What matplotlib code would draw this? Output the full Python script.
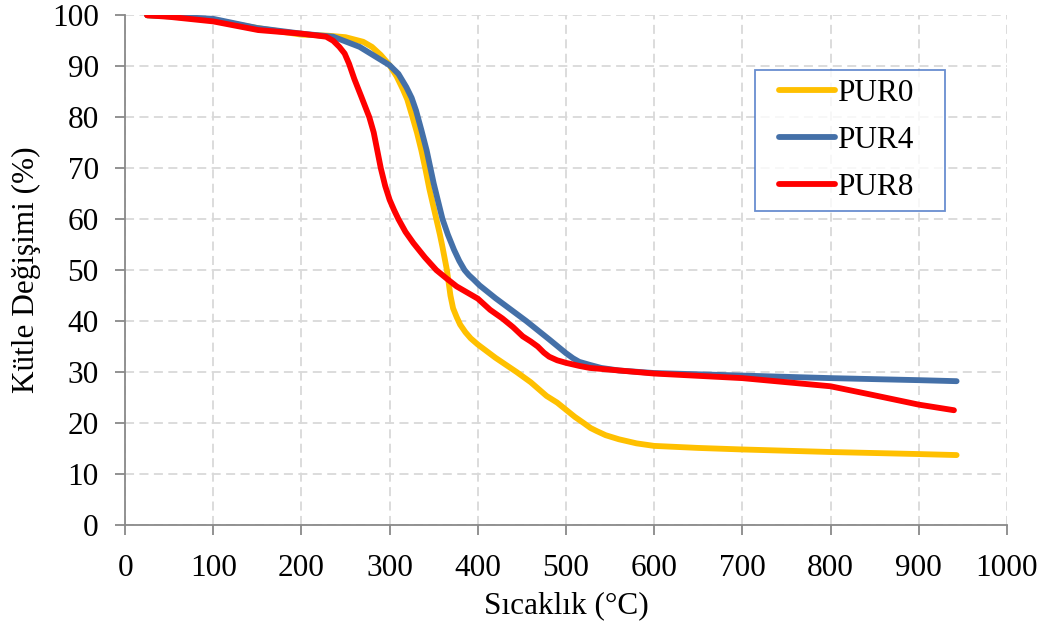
import matplotlib
matplotlib.use("Agg")
import matplotlib.pyplot as plt
from matplotlib.legend_handler import HandlerLine2D

# ─── Data ────────────────────────────────────────────────────────────────────

temp_pur0 = [25, 50, 100, 150, 200, 230, 250, 270, 280, 290, 300, 308, 315, 320,
             326, 331, 336, 341, 345, 349, 353, 357, 360, 365, 369, 372, 376,
             380, 386, 392, 400, 420, 444, 460, 478, 490, 500, 510, 520, 528,
             535, 545, 560, 580, 600, 650, 700, 800, 900, 943]
mass_pur0 = [100, 99.8, 99.0, 97.5, 96.2, 96.0, 95.7, 94.8, 93.8, 92.2, 90.2, 88,
             85.5, 83.5, 80, 77, 73.5, 69.5, 66, 63, 60, 57, 54.5, 50, 45, 42.5,
             40.8, 39.3, 37.8, 36.6, 35.4, 32.8, 30, 28, 25.3, 24, 22.6, 21.2, 20,
             19, 18.4, 17.6, 16.8, 16, 15.5, 15.1, 14.8, 14.3, 13.9, 13.7]

temp_pur4 = [25, 50, 100, 150, 200, 236, 266, 300, 310, 319, 325, 330, 336, 342,
             350, 355, 360, 366, 373, 379, 385, 390, 395, 402, 420, 455, 481,
             500, 508, 515, 527, 540, 560, 600, 700, 800, 900, 943]
mass_pur4 = [100, 99.8, 99.3, 97.5, 96.4, 95.8, 93.8, 90.2, 88.5, 85.9, 83.8, 81.3,
             77.5, 73.5, 67, 63.5, 60, 57, 54, 51.8, 50, 49, 48.2, 47, 44.5, 40,
             36.4, 33.7, 32.7, 32, 31.4, 30.8, 30.3, 29.8, 29.3, 28.8, 28.4, 28.2]

temp_pur8 = [25, 50, 100, 151, 200, 228, 236, 243, 249, 254, 260, 268, 277, 282,
             286, 290, 295, 300, 305, 310, 318, 327, 340, 353, 365, 376, 400, 414,
             428, 440, 451, 460, 468, 475, 481, 490, 500, 515, 527, 600, 700, 800,
             845, 900, 940]
mass_pur8 = [100, 99.7, 98.8, 97.1, 96.4, 95.8, 95, 93.8, 92.5, 90.5, 87.5, 84, 80,
             77, 73.5, 70, 66.5, 63.8, 61.8, 60, 57.5, 55.3, 52.5, 50, 48.3, 46.8,
             44.4, 42.2, 40.5, 38.8, 37, 36, 35, 33.8, 33, 32.3, 31.8, 31.2, 30.8,
             29.7, 28.8, 27.2, 25.6, 23.6, 22.5]

x_ticks = list(range(0, 1001, 100))
y_ticks = list(range(0, 101, 10))


class IndentedLine(HandlerLine2D):
    """Legend line drawn in the right part of the handle box (Excel-like indent)."""
    indent = 0.21

    def create_artists(self, legend, orig_handle, xdescent, ydescent,
                       width, height, fontsize, trans):
        shift = self.indent * width
        return super().create_artists(legend, orig_handle, xdescent - shift,
                                      ydescent, width - shift, height,
                                      fontsize, trans)


# ─── Style ───────────────────────────────────────────────────────────────────

plt.rcParams["font.family"] = ["Liberation Serif", "DejaVu Serif"]
GREY = "#898989"
FS = 22.5

fig = plt.figure(figsize=(10.51, 6.37), dpi=100)
ax = fig.add_axes([0.119, 0.176, 0.839, 0.800])

line_kw = dict(lw=4.2, solid_capstyle="round", solid_joinstyle="round")
ax.plot(temp_pur0, mass_pur0, color="#FFC000", label="PUR0", **line_kw)
ax.plot(temp_pur4, mass_pur4, color="#4470A8", label="PUR4", **line_kw)
ax.plot(temp_pur8, mass_pur8, color="#FF0000", label="PUR8", **line_kw)

ax.set_xlim(0, 1000)
ax.set_ylim(0, 100)
ax.set_xticks(x_ticks)
ax.set_yticks(y_ticks)

ax.grid(True, color="#D9D9D9", linestyle=(0, (5, 3)), linewidth=1.3)
ax.set_axisbelow(True)

for side in ("top", "right"):
    ax.spines[side].set_visible(False)
for side in ("left", "bottom"):
    ax.spines[side].set_color(GREY)
    ax.spines[side].set_linewidth(1.3)

ax.tick_params(axis="both", direction="out", length=7, width=1.3, color=GREY,
               labelsize=FS)
ax.tick_params(axis="x", pad=14)
ax.tick_params(axis="y", pad=12)

ax.set_xlabel("Sıcaklık (°C)", fontsize=FS, labelpad=6)
ax.set_ylabel("Kütle Değişimi (%)", fontsize=FS, labelpad=8)

leg = ax.legend(loc="upper left", bbox_to_anchor=(0.714, 0.627, 0.216, 0.265),
                mode="expand", fontsize=FS, frameon=True, fancybox=False,
                handlelength=2.3, handletextpad=0.05, labelspacing=0.58,
                borderpad=0.28, borderaxespad=0,
                handler_map={matplotlib.lines.Line2D: IndentedLine()})
leg.get_frame().set_edgecolor("#4472C4")
leg.get_frame().set_linewidth(1.3)

fig.savefig("out.png", dpi=100)
